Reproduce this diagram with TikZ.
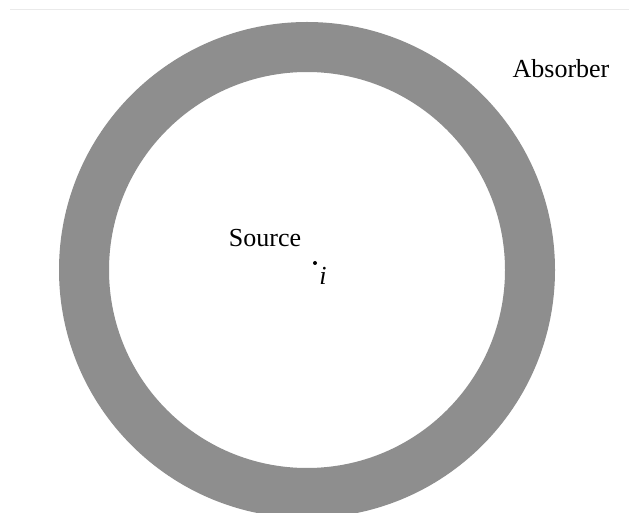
\documentclass[tikz,border=0pt]{standalone}
\usepackage{fontspec}
\setmainfont{Liberation Serif}
\usepackage{xcolor}
\usepackage{tikz}
\usetikzlibrary{positioning}

\definecolor{ringgray}{HTML}{8E8E8E}
\definecolor{rulegray}{HTML}{EAEAEA}

\begin{document}
\begin{tikzpicture}[
    x=1pt, y=1pt,
    label/.style={font=\fontsize{26}{30}\selectfont, inner sep=0pt, anchor=base},
    pointdot/.style={fill, circle, minimum size=4pt, inner sep=0pt}
  ]
    % Frame
    \clip (0,0) rectangle (629,512);
    \fill[white] (0,0) rectangle (629,512);
    \coordinate (ruleL) at (10,502.5);
    \coordinate (ruleR) at (629,502.5);
    \draw[rulegray, line width=1.2pt] (ruleL) -- (ruleR);

    % Absorber ring
    \coordinate (centre) at (307,242);
    \fill[ringgray, even odd rule] (centre) circle (248) (centre) circle (198);

    % Labels
    \node[label] (absorber) at (561,434) {Absorber};
    \node[label] (source)   at (265,265) {Source};
    \node[pointdot] (pt) at (315,249) {};
    \node[label] (ptname) at (323,227) {\itshape i};
  \end{tikzpicture}
\end{document}
